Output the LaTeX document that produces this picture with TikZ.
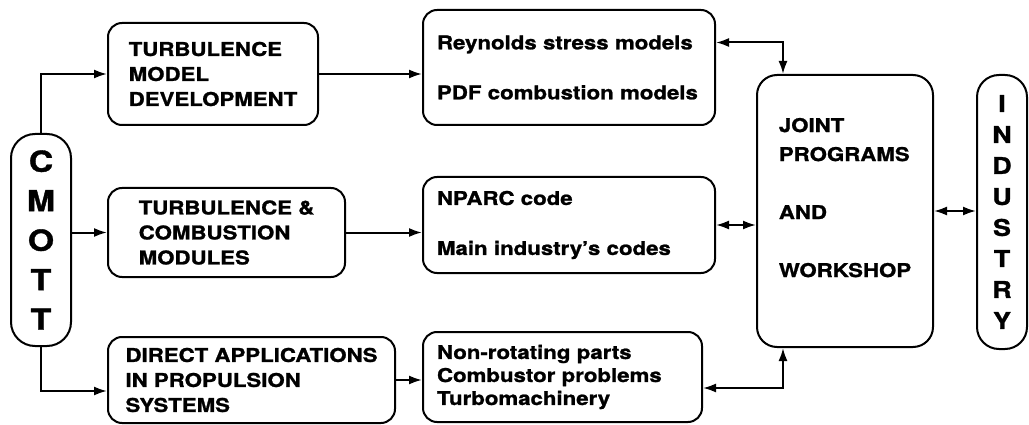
\documentclass[tikz,border=0pt]{standalone}
\usepackage{fontspec}
\setmainfont{TeX Gyre Heros}[FakeStretch=1.17, BoldFeatures={FakeBold=1.2}]
\usetikzlibrary{arrows.meta, calc, positioning}
\tikzset{
  blk/.style={draw, line width=2pt, rounded corners=14pt, align=left, inner xsep=0pt, inner ysep=0pt, font=\bfseries\fontsize{19}{25}\selectfont},
  midblk/.style={blk, inner xsep=14pt},
  pillar/.style={draw, line width=2pt, rounded corners=24pt, align=center, inner sep=0pt},
  flow/.style={line width=2pt, -{Latex[length=13pt,width=9pt]}},
  both/.style={line width=2pt, {Latex[length=13pt,width=9pt]}-{Latex[length=13pt,width=9pt]}}
}
\begin{document}
\begin{tikzpicture}[x=1pt, y=-1pt]
            \useasboundingbox (0,0) rectangle (1029,425);
            \node[pillar, minimum width=60pt, minimum height=212pt, font=\bfseries\fontsize{29}{39.5}\selectfont] (cmott) at (41,240) {C\\M\\O\\T\\T};
            \node[pillar, rounded corners=22pt, minimum width=50pt, minimum height=274pt, font=\bfseries\fontsize{23}{31}\selectfont] (ind) at (1002,212) {I\\N\\D\\U\\S\\T\\R\\Y};

            \node[blk, minimum width=210pt, minimum height=102pt] (tmd) at (213,74) {TURBULENCE\\MODEL\\DEVELOPMENT};
            \node[blk, minimum width=237pt, minimum height=89pt] (tcm) at (226.5,232.5) {TURBULENCE \&\\COMBUSTION\\MODULES};
            \node[blk, minimum width=287pt, minimum height=86pt] (dap) at (251.5,380) {DIRECT APPLICATIONS\\IN PROPULSION\\SYSTEMS};

            \node[midblk, text width=264pt, minimum height=115pt] (rsm) at (569,67.5) {Reynolds stress models\\[25pt]PDF combustion models};
            \node[midblk, text width=264pt, minimum height=96pt] (npc) at (569,225) {NPARC code\\[25pt]Main industry's codes};
            \node[midblk, text width=251pt, minimum height=90pt, font=\bfseries\fontsize{19}{23}\selectfont] (nrp) at (562.5,377) {Non-rotating parts\\Combustor problems\\Turbomachinery};

            \node[blk, rounded corners=20pt, minimum width=176pt, minimum height=272pt, font=\bfseries\fontsize{19}{29}\selectfont] (jpw) at (845,211) {JOINT\\PROGRAMS\\[29pt]AND\\[29pt]WORKSHOP\\[-2pt]\mbox{}};

            \draw[flow] (cmott.north) |- (tmd.west);
            \draw[flow] (cmott.east |- tcm.west) -- (tcm.west);
            \draw[flow] (cmott.south) |- ($(dap.west)+(0,11)$);
            \draw[flow] (tmd.east) -- (tmd.east -| rsm.west);
            \draw[flow] (tcm.east) -- (tcm.east -| npc.west);
            \draw[flow] (dap.east) -- (dap.east -| nrp.west);

            \draw[both] ($(rsm.east)+(0,-25)$) -| ($(jpw.north)+(-62,0)$);
            \draw[both] (npc.east) -- (npc.east -| jpw.west);
            \draw[both] ($(nrp.east)+(0,11)$) -| ($(jpw.south)+(-62,0)$);
            \draw[both] (jpw.east) -- (jpw.east -| ind.west);
        \end{tikzpicture}
\end{document}
